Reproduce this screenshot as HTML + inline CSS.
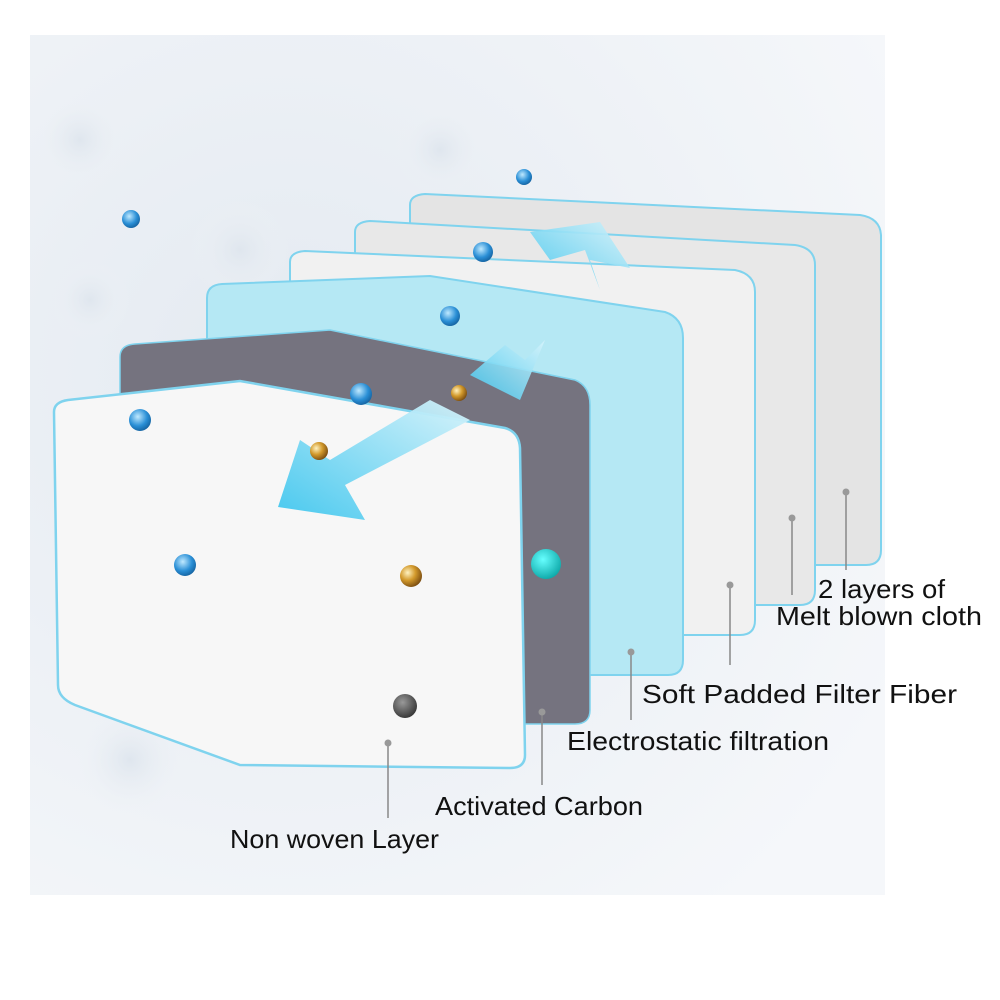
<!DOCTYPE html>
<html><head><meta charset="utf-8"><style>
html,body{margin:0;padding:0;background:#fff}
svg{display:block}
text{font-family:"Liberation Sans",sans-serif;fill:#111}
</style></head><body>
<svg width="1000" height="1000" viewBox="0 0 1000 1000">
<defs>
<radialGradient id="bg" cx="0.3" cy="0.4" r="0.8">
<stop offset="0" stop-color="#e4eaf1"/><stop offset="1" stop-color="#f5f7fa"/>
</radialGradient>
<radialGradient id="ball" cx="0.5" cy="0.5" r="0.5"><stop offset="0" stop-color="#dfe6ee"/><stop offset="1" stop-color="#eef2f6" stop-opacity="0"/></radialGradient>
<radialGradient id="gold" cx="0.35" cy="0.35" r="0.7"><stop offset="0" stop-color="#fff2c0"/><stop offset="0.5" stop-color="#d39a2c"/><stop offset="1" stop-color="#7a4c10"/></radialGradient>
<radialGradient id="o2" cx="0.4" cy="0.35" r="0.7"><stop offset="0" stop-color="#bfe9ff"/><stop offset="0.6" stop-color="#2a8fd6"/><stop offset="1" stop-color="#135f9c"/></radialGradient>
<radialGradient id="teal" cx="0.4" cy="0.35" r="0.7"><stop offset="0" stop-color="#6ff"/><stop offset="1" stop-color="#0aa6a6"/></radialGradient>
<radialGradient id="grey" cx="0.4" cy="0.35" r="0.7"><stop offset="0" stop-color="#999"/><stop offset="1" stop-color="#333"/></radialGradient>
<linearGradient id="arr" x1="1" y1="0" x2="0" y2="1"><stop offset="0" stop-color="#d6f3fb"/><stop offset="1" stop-color="#3fc6ee"/></linearGradient>
</defs>
<rect x="30" y="35" width="855" height="860" fill="url(#bg)"/>
<circle cx="80" cy="140" r="45" fill="url(#ball)"/>
<circle cx="240" cy="250" r="50" fill="url(#ball)"/>
<circle cx="440" cy="150" r="45" fill="url(#ball)"/>
<circle cx="90" cy="300" r="40" fill="url(#ball)"/>
<circle cx="130" cy="760" r="55" fill="url(#ball)"/>
<path d="M410,205 Q410,195 425,194 L860,215 Q880,218 881,235 L881,550 Q881,565 866,565 L420,565 L410,560 Z" fill="#e4e4e4" stroke="#7fd3ee" stroke-width="2"/>
<path d="M355,232 Q355,222 370,221 L795,245 Q815,248 815,265 L815,590 Q815,605 800,605 L365,605 L355,600 Z" fill="#e8e8e8" stroke="#7fd3ee" stroke-width="2"/>
<path d="M290,262 Q290,252 305,251 L735,270 Q755,274 755,292 L755,620 Q755,635 740,635 L300,635 L290,630 Z" fill="#f1f1f1" stroke="#7fd3ee" stroke-width="2"/>
<path d="M207,298 Q207,285 222,284 L430,276 L665,312 Q683,318 683,338 L683,660 Q683,675 668,675 L215,675 L207,670 Z" fill="#b5e8f4" stroke="#7fd3ee" stroke-width="2"/>
<path d="M120,357 Q120,345 135,344 L330,330 L575,380 Q590,386 590,405 L590,710 Q590,724 575,724 L130,724 L120,720 Z" fill="#75737f" stroke="#7fd3ee" stroke-width="1.5"/>
<path d="M54,412 Q54,402 68,400 L240,381 L505,428 Q519,432 520,448 L525,755 Q525,768 510,768 L240,765 L75,705 Q58,698 58,685 Z" fill="#f7f7f7" stroke="#7fd3ee" stroke-width="2.5"/>
<polygon points="600,290 585,250 550,260 530,232 600,222 630,268 590,260 600,290" fill="url(#arr)" opacity="0.9"/>
<polygon points="500,390 470,375 505,345 525,360 545,340 520,400 500,390" fill="url(#arr)" opacity="0.9"/>
<polygon points="470,420 430,400 330,460 300,440 278,507 365,520 345,485 470,420" fill="url(#arr)" opacity="0.95"/>
<g>
<circle cx="524" cy="177" r="8" fill="url(#o2)"/>
<circle cx="131" cy="219" r="9" fill="url(#o2)"/>
<circle cx="483" cy="252" r="10" fill="url(#o2)"/>
<circle cx="450" cy="316" r="10" fill="url(#o2)"/>
<circle cx="361" cy="394" r="11" fill="url(#o2)"/>
<circle cx="140" cy="420" r="11" fill="url(#o2)"/>
<circle cx="185" cy="565" r="11" fill="url(#o2)"/>
<circle cx="459" cy="393" r="8" fill="url(#gold)"/>
<circle cx="319" cy="451" r="9" fill="url(#gold)"/>
<circle cx="411" cy="576" r="11" fill="url(#gold)"/>
<circle cx="546" cy="564" r="15" fill="url(#teal)"/>
<circle cx="405" cy="706" r="12" fill="url(#grey)"/>
</g>
<g stroke="#888" stroke-width="1.5" fill="#999">
<line x1="846" y1="492" x2="846" y2="570"/><circle cx="846" cy="492" r="3.5" stroke="none"/>
<line x1="792" y1="518" x2="792" y2="595"/><circle cx="792" cy="518" r="3.5" stroke="none"/>
<line x1="730" y1="585" x2="730" y2="665"/><circle cx="730" cy="585" r="3.5" stroke="none"/>
<line x1="631" y1="652" x2="631" y2="720"/><circle cx="631" cy="652" r="3.5" stroke="none"/>
<line x1="542" y1="712" x2="542" y2="785"/><circle cx="542" cy="712" r="3.5" stroke="none"/>
<line x1="388" y1="743" x2="388" y2="818"/><circle cx="388" cy="743" r="3.5" stroke="none"/>
</g>
<text x="818" y="598" font-size="26" textLength="127" lengthAdjust="spacingAndGlyphs">2 layers of</text>
<text x="776" y="625" font-size="26" textLength="206" lengthAdjust="spacingAndGlyphs">Melt blown cloth</text>
<text x="642" y="703" font-size="26" textLength="315" lengthAdjust="spacingAndGlyphs">Soft Padded Filter Fiber</text>
<text x="567" y="750" font-size="26" textLength="262" lengthAdjust="spacingAndGlyphs">Electrostatic filtration</text>
<text x="435" y="815" font-size="26" textLength="208" lengthAdjust="spacingAndGlyphs">Activated Carbon</text>
<text x="230" y="848" font-size="26" textLength="209" lengthAdjust="spacingAndGlyphs">Non woven Layer</text>
</svg>
</body></html>
